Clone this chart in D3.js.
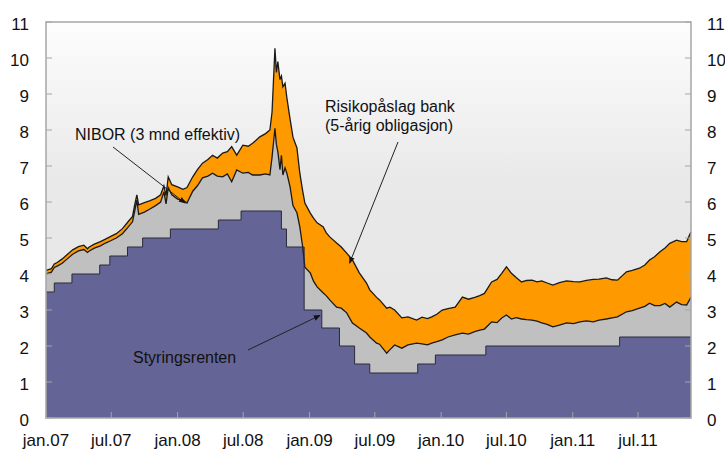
<!DOCTYPE html>
<html>
<head>
<meta charset="utf-8">
<script src="https://cdn.jsdelivr.net/npm/d3@7.9.0/dist/d3.min.js"></script>
<style>
  body { margin: 0; background: #fff; }
  svg { display: block; font-family: "Liberation Sans", Arial, sans-serif; }
</style>
</head>
<body>
<svg id="chart" width="725" height="451"></svg>
<script>
// ========== Data ==========

// Styringsrenten (policy rate), change dates and levels
const policyDates = ['2007-01-01', '2007-01-24', '2007-03-14', '2007-05-30', '2007-06-27',
  '2007-08-15', '2007-09-26', '2007-12-12', '2008-04-23', '2008-06-25', '2008-10-15',
  '2008-10-29', '2008-12-17', '2009-02-04', '2009-03-25', '2009-05-06', '2009-06-17',
  '2009-10-28', '2009-12-16', '2010-05-05', '2011-05-11'];
const policyRates = [3.5, 3.75, 4.0, 4.25, 4.5, 4.75, 5.0, 5.25, 5.5, 5.75, 5.25,
  4.75, 3.0, 2.5, 2.0, 1.5, 1.25, 1.5, 1.75, 2.0, 2.25];

// Market rates
const marketDates = ['2007-01-01', '2007-01-16', '2007-01-24', '2007-02-01', '2007-02-15',
  '2007-03-01', '2007-03-16', '2007-04-01', '2007-04-16', '2007-04-26', '2007-05-01',
  '2007-05-15', '2007-06-01', '2007-06-15', '2007-07-01', '2007-07-15', '2007-08-01',
  '2007-08-15', '2007-08-29', '2007-09-04', '2007-09-10', '2007-09-15', '2007-10-01',
  '2007-10-15', '2007-11-01', '2007-11-15', '2007-11-24', '2007-11-30', '2007-12-06',
  '2007-12-16', '2008-01-01', '2008-01-16', '2008-01-27', '2008-02-12', '2008-02-25',
  '2008-03-10', '2008-03-25', '2008-04-07', '2008-04-20', '2008-05-05', '2008-05-18',
  '2008-05-30', '2008-06-13', '2008-06-30', '2008-07-15', '2008-07-27', '2008-08-16',
  '2008-09-01', '2008-09-13', '2008-09-19', '2008-09-27', '2008-10-01', '2008-10-05',
  '2008-10-11', '2008-10-15', '2008-10-19', '2008-10-25', '2008-10-30', '2008-11-08',
  '2008-11-16', '2008-11-27', '2008-12-05', '2008-12-13', '2008-12-19', '2009-01-03',
  '2009-01-12', '2009-01-22', '2009-02-08', '2009-02-16', '2009-02-26', '2009-03-17',
  '2009-03-30', '2009-04-14', '2009-04-30', '2009-05-19', '2009-06-08', '2009-06-17',
  '2009-07-06', '2009-07-14', '2009-08-03', '2009-08-12', '2009-08-25', '2009-09-14',
  '2009-10-01', '2009-10-25', '2009-11-09', '2009-11-24', '2009-12-06', '2009-12-20',
  '2010-01-04', '2010-01-20', '2010-02-09', '2010-03-01', '2010-03-18', '2010-04-04',
  '2010-04-18', '2010-05-01', '2010-05-21', '2010-06-05', '2010-06-18', '2010-07-01',
  '2010-07-15', '2010-07-28', '2010-08-12', '2010-08-26', '2010-09-10', '2010-09-24',
  '2010-10-07', '2010-10-22', '2010-11-07', '2010-11-25', '2010-12-15', '2011-01-03',
  '2011-01-21', '2011-02-08', '2011-02-27', '2011-03-15', '2011-04-04', '2011-04-20',
  '2011-05-05', '2011-05-30', '2011-06-15', '2011-07-05', '2011-07-20', '2011-08-02',
  '2011-08-16', '2011-08-31', '2011-09-14', '2011-09-27', '2011-10-16', '2011-10-30',
  '2011-11-13', '2011-11-25'];

// NIBOR (3 mnd effektiv)
const nibor = [4.00, 4.05, 4.18, 4.22, 4.30,
  4.42, 4.55, 4.64, 4.68, 4.60, 4.64,
  4.72, 4.78, 4.86, 4.93, 5.00, 5.12,
  5.28, 5.45, 5.75, 6.05, 5.66, 5.72,
  5.80, 5.90, 6.00, 6.28, 5.95, 6.40,
  6.20, 6.08, 6.05, 5.97, 6.30, 6.45,
  6.67, 6.72, 6.80, 6.72, 6.70, 6.78,
  6.56, 6.89, 6.80, 6.82, 6.75, 6.75,
  6.78, 6.75, 7.25, 8.05, 7.60, 7.40,
  6.90, 7.30, 6.75, 6.95, 6.80, 6.42,
  5.90, 5.70, 5.31, 4.75, 4.19, 4.03,
  3.80, 3.64, 3.47, 3.40, 3.28, 3.08,
  3.05, 2.92, 2.64, 2.50, 2.36, 2.25,
  2.08, 2.05, 1.80, 1.90, 2.03, 1.94,
  2.03, 2.08, 2.06, 2.03, 2.08, 2.12,
  2.17, 2.25, 2.31, 2.36, 2.33, 2.40,
  2.44, 2.47, 2.67, 2.65, 2.78, 2.86,
  2.75, 2.79, 2.75, 2.73, 2.72, 2.69,
  2.64, 2.60, 2.53, 2.58, 2.64, 2.62,
  2.67, 2.70, 2.67, 2.72, 2.75, 2.78,
  2.81, 2.95, 2.98, 3.05, 3.10, 3.19,
  3.12, 3.12, 3.18, 3.08, 3.22, 3.15,
  3.14, 3.36];

// NIBOR + Risikopåslag bank (5-årig obligasjon)
const bankRate = [4.10, 4.15, 4.28, 4.32, 4.42,
  4.54, 4.67, 4.76, 4.80, 4.70, 4.75,
  4.83, 4.90, 4.97, 5.05, 5.12, 5.26,
  5.43, 5.60, 5.92, 6.20, 5.92, 5.98,
  6.03, 6.10, 6.20, 6.45, 6.18, 6.70,
  6.48, 6.42, 6.35, 6.40, 6.70, 6.90,
  7.08, 7.18, 7.30, 7.22, 7.36, 7.40,
  7.54, 7.30, 7.58, 7.55, 7.63, 7.81,
  7.90, 8.00, 8.50, 10.27, 9.60, 9.90,
  9.40, 9.50, 9.20, 9.30, 8.90, 8.30,
  7.80, 7.50, 6.80, 6.30, 5.97, 5.69,
  5.55, 5.42, 5.31, 5.15, 5.03, 4.86,
  4.75, 4.58, 4.39, 4.03, 3.75, 3.56,
  3.35, 3.28, 3.05, 3.08, 3.00, 2.78,
  2.81, 2.72, 2.80, 2.76, 2.81, 2.88,
  3.00, 3.04, 3.08, 3.36, 3.30, 3.35,
  3.40, 3.46, 3.78, 3.85, 4.02, 4.20,
  4.02, 3.90, 3.78, 3.82, 3.83, 3.78,
  3.81, 3.75, 3.69, 3.76, 3.81, 3.79,
  3.78, 3.82, 3.85, 3.86, 3.89, 3.84,
  3.83, 4.06, 4.10, 4.16, 4.25, 4.39,
  4.48, 4.62, 4.72, 4.85, 4.94, 4.90,
  4.90, 5.17];

const yTicks = d3.range(0, 12);
const startDate = '2007-01-01';
const endDate = '2011-11-25';

// ========== Setup ==========

const parse = d3.timeParse('%Y-%m-%d');
const svg = d3.select('#chart');
const plot = { left: 46, right: 691, top: 22, bottom: 418 };

const x = d3.scaleTime()
  .domain([parse(startDate), parse(endDate)])
  .range([plot.left, plot.right]);
const y = d3.scaleLinear().domain([0, 11]).range([plot.bottom, plot.top]);

const market = marketDates.map((d, i) => ({ date: parse(d), nibor: nibor[i], bank: bankRate[i] }));
const policy = policyDates.map((d, i) => ({ date: parse(d), v: policyRates[i] }));
policy.push({ date: parse(endDate), v: policyRates[policyRates.length - 1] });

// background gradient + clip
const defs = svg.append('defs');
const grad = defs.append('linearGradient')
  .attr('id', 'bg').attr('x1', 0).attr('y1', 0).attr('x2', 0).attr('y2', 1);
grad.append('stop').attr('offset', '0%').attr('stop-color', '#fdfdfd');
grad.append('stop').attr('offset', '40%').attr('stop-color', '#e9e9e9');
grad.append('stop').attr('offset', '100%').attr('stop-color', '#e4e4e4');

defs.append('clipPath').attr('id', 'clip')
  .append('rect')
  .attr('x', plot.left).attr('y', plot.top)
  .attr('width', plot.right - plot.left).attr('height', plot.bottom - plot.top);

svg.append('rect')
  .attr('x', plot.left).attr('y', plot.top)
  .attr('width', plot.right - plot.left).attr('height', plot.bottom - plot.top)
  .attr('fill', 'url(#bg)');

// ========== Areas ==========

const g = svg.append('g').attr('clip-path', 'url(#clip)');

const bankArea = d3.area().x(d => x(d.date)).y0(y(0)).y1(d => y(d.bank));
const niborArea = d3.area().x(d => x(d.date)).y0(y(0)).y1(d => y(d.nibor));
const policyArea = d3.area().curve(d3.curveStepAfter)
  .x(d => x(d.date)).y0(y(0)).y1(d => y(d.v));

g.append('path').datum(market).attr('d', bankArea).attr('fill', '#ff9900');
g.append('path').datum(market).attr('d', niborArea).attr('fill', '#c0c0c0');
g.append('path').datum(policy).attr('d', policyArea).attr('fill', '#646496');

// lines on top
g.append('path').datum(market)
  .attr('d', d3.line().x(d => x(d.date)).y(d => y(d.bank)))
  .attr('fill', 'none').attr('stroke', '#1a1a1a').attr('stroke-width', 1.3);
g.append('path').datum(market)
  .attr('d', d3.line().x(d => x(d.date)).y(d => y(d.nibor)))
  .attr('fill', 'none').attr('stroke', '#1a1a1a').attr('stroke-width', 1.3);
g.append('path').datum(policy)
  .attr('d', d3.line().curve(d3.curveStepAfter).x(d => x(d.date)).y(d => y(d.v)))
  .attr('fill', 'none').attr('stroke', '#2a2a3a').attr('stroke-width', 1);

// ========== Frame, ticks, labels ==========

const axisColor = '#a6a6a6';
svg.append('rect')
  .attr('x', plot.left).attr('y', plot.top)
  .attr('width', plot.right - plot.left).attr('height', plot.bottom - plot.top)
  .attr('fill', 'none').attr('stroke', axisColor).attr('stroke-width', 1.5);

yTicks.forEach(t => {
  svg.append('line')
    .attr('x1', plot.left).attr('x2', plot.left + 6)
    .attr('y1', y(t)).attr('y2', y(t))
    .attr('stroke', axisColor);
  svg.append('line')
    .attr('x1', plot.right - 6).attr('x2', plot.right)
    .attr('y1', y(t)).attr('y2', y(t))
    .attr('stroke', axisColor);
  svg.append('text')
    .attr('x', 29).attr('y', y(t) + 2).attr('dy', '0.35em')
    .attr('text-anchor', 'end').attr('font-size', 17).attr('fill', '#111')
    .text(t);
  svg.append('text')
    .attr('x', 707).attr('y', y(t) + 2).attr('dy', '0.35em')
    .attr('font-size', 17).attr('fill', '#111')
    .text(t);
});

const xTicks = d3.timeMonth.every(6).range(parse(startDate), parse(endDate));
const monthName = d => (d.getMonth() === 0 ? 'jan.' : 'jul.') + d3.timeFormat('%y')(d);
xTicks.forEach(t => {
  svg.append('line')
    .attr('x1', x(t)).attr('x2', x(t))
    .attr('y1', plot.bottom).attr('y2', plot.bottom - 6)
    .attr('stroke', axisColor);
  svg.append('text')
    .attr('x', x(t)).attr('y', 446)
    .attr('text-anchor', 'middle').attr('font-size', 17).attr('fill', '#111')
    .text(monthName(t));
});

// ========== Annotations ==========

defs.append('marker')
  .attr('id', 'arrow').attr('viewBox', '0 0 10 10')
  .attr('refX', 9).attr('refY', 5)
  .attr('markerWidth', 7).attr('markerHeight', 7)
  .attr('orient', 'auto')
  .append('path').attr('d', 'M0,1 L10,5 L0,9 Z').attr('fill', '#111');

function note(lines, tx, ty, x1, y1, x2, y2) {
  lines.forEach((s, i) => {
    svg.append('text')
      .attr('x', tx).attr('y', ty + i * 19)
      .attr('font-size', 16).attr('fill', '#111')
      .text(s);
  });
  svg.append('line')
    .attr('x1', x1).attr('y1', y1).attr('x2', x2).attr('y2', y2)
    .attr('stroke', '#222').attr('stroke-width', 1)
    .attr('marker-end', 'url(#arrow)');
}

note(['NIBOR (3 mnd effektiv)'], 75, 140, 113, 147,
  x(parse('2008-01-22')), y(5.97));
note(['Risikopåslag bank', '(5-årig obligasjon)'], 325, 112, 398, 142,
  x(parse('2009-04-22')), y(4.3));
note(['Styringsrenten'], 133, 363, 248, 350,
  x(parse('2009-01-30')), y(2.85));
</script>
</body>
</html>
